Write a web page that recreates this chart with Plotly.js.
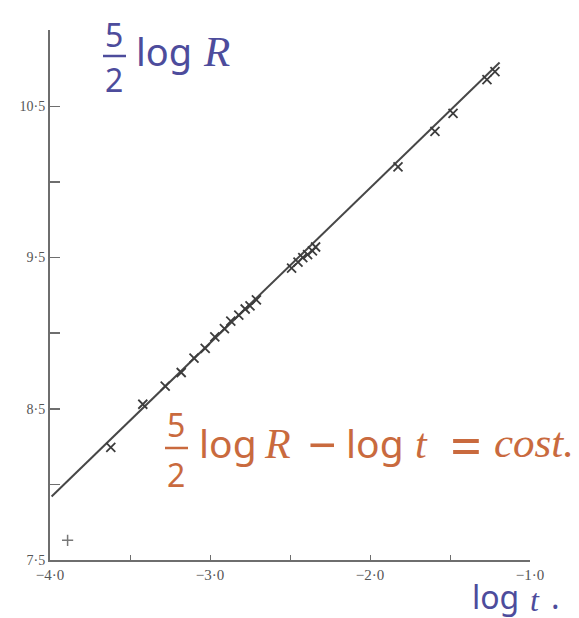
<!DOCTYPE html>
<html>
<head>
<meta charset="utf-8">
<script src="https://cdn.plot.ly/plotly-3.0.1.min.js"></script>
<style>html,body{margin:0;padding:0;background:#fff;}#chart{width:579px;height:618px;}</style>
</head>
<body>
<div id="chart"></div>
<script>
// log t (t in seconds) of the crosses
const logT = [-3.62, -3.42, -3.28, -3.18, -3.10, -3.03, -2.97, -2.91, -2.87, -2.82, -2.78, -2.75, -2.71,
              -2.49, -2.45, -2.42, -2.39, -2.36, -2.34, -1.825, -1.594, -1.481, -1.269, -1.219];
// (5/2) log R of the crosses
const logR52 = [8.245, 8.53, 8.65, 8.74, 8.835, 8.90, 8.975, 9.03, 9.08, 9.12, 9.16, 9.18, 9.22,
                9.43, 9.47, 9.50, 9.52, 9.545, 9.57, 10.10, 10.335, 10.453, 10.677, 10.73];
// separate '+' point near the origin
const plusT = [-3.89];
const plusR = [7.63];
// fitted line  (5/2) log R - log t = cost.
const fitT = [-3.99, -1.19];
const fitR = [7.92, 10.79];
// tick labels
const xTickVals = [-4, -3, -2, -1];
const xTickText = ['\u22124\u00b70', '\u22123\u00b70', '\u22122\u00b70', '\u22121\u00b70'];
const yTickVals = [7.5, 8.5, 9.5, 10.5];
const yTickText = ['7\u00b75', '8\u00b75', '9\u00b75', '10\u00b75'];

const W = 579, H = 618, L = 50, R = 49, T = 30, B = 58;
const pw = W - L - R, ph = H - T - B;
const px = x => (x - L) / pw;
const py = y => (H - B - y) / ph;

const BLUE = '#4d4c9c', ORANGE = '#c96a3e', INK = '#3c3c3c', AX = '#6e6e6e';
const SANS = 'Noto Sans, DejaVu Sans, sans-serif';
const SERIF = 'Liberation Serif, DejaVu Serif, serif';

const traces = [
  {x: fitT, y: fitR, mode: 'lines', line: {color: '#474747', width: 2}, hoverinfo: 'skip', showlegend: false},
  {x: logT, y: logR52, mode: 'markers', marker: {symbol: 'x-thin', size: 9, line: {color: INK, width: 1.8}}, showlegend: false},
  {x: plusT, y: plusR, mode: 'markers', marker: {symbol: 'cross-thin', size: 8, line: {color: '#777', width: 1.5}}, showlegend: false}
];

// text piece helper (pixel positions converted to paper coords)
const ann = (x, y, text, size, color, xanchor, family, italic) => ({
  xref: 'paper', yref: 'paper', x: px(x), y: py(y),
  text: italic ? '<i>' + text + '</i>' : text, showarrow: false,
  xanchor: xanchor || 'center', yanchor: 'middle',
  font: {family: family || SANS, size: size, color: color}
});

const layout = {
  width: W, height: H,
  margin: {l: L, r: R, t: T, b: B, pad: 0},
  paper_bgcolor: '#ffffff', plot_bgcolor: '#ffffff',
  xaxis: {
    range: [-4, -1], showgrid: false, zeroline: false,
    showline: true, linecolor: AX, linewidth: 2,
    tickmode: 'array', tickvals: xTickVals, ticktext: xTickText,
    ticks: 'inside', ticklen: 5, tickwidth: 1, tickcolor: AX,
    minor: {tick0: -4, dtick: 0.5, ticks: 'inside', ticklen: 5, tickwidth: 1, tickcolor: AX},
    tickfont: {family: SERIF, size: 15, color: '#555'}
  },
  yaxis: {
    range: [7.5, 11.005], showgrid: false, zeroline: false,
    showline: true, linecolor: AX, linewidth: 2,
    tickmode: 'array', tickvals: yTickVals, ticktext: yTickText,
    ticks: 'inside', ticklen: 10, tickwidth: 1.5, tickcolor: AX,
    minor: {tick0: 7.5, dtick: 0.5, ticks: 'inside', ticklen: 10, tickwidth: 1.5, tickcolor: AX},
    tickfont: {family: SERIF, size: 14, color: '#555'}
  },
  shapes: [
    {type: 'line', xref: 'paper', yref: 'paper', x0: px(103), x1: px(126), y0: py(56), y1: py(56), line: {color: BLUE, width: 2.5}},
    {type: 'line', xref: 'paper', yref: 'paper', x0: px(165), x1: px(188), y0: py(448), y1: py(448), line: {color: ORANGE, width: 2.5}}
  ],
  annotations: [
    // blue  5/2 log R
    ann(114, 34, '5', 32, BLUE),
    ann(114, 80, '2', 32, BLUE),
    ann(134, 51, 'log', 38, BLUE, 'left'),
    ann(201, 51, 'R', 43, BLUE, 'left', SERIF, true),
    // orange  5/2 log R - log t = cost.
    ann(176, 424, '5', 32, ORANGE),
    ann(176, 474, '2', 32, ORANGE),
    ann(197, 443, 'log', 39, ORANGE, 'left'),
    ann(262, 444, 'R', 42, ORANGE, 'left', SERIF, true),
    ann(322, 444, '\u2212', 50, ORANGE),
    ann(344, 443, 'log', 39, ORANGE, 'left'),
    ann(413, 444, 't', 42, ORANGE, 'left', SERIF, true),
    ann(466, 444, '=', 56, ORANGE),
    ann(492, 443, 'cost.', 43, ORANGE, 'left', SERIF, true),
    // blue  log t .
    ann(470, 596, 'log', 32, BLUE, 'left'),
    ann(528, 600, 't', 32, BLUE, 'left', SERIF, true),
    ann(549, 596, '.', 32, BLUE, 'left')
  ]
};

Plotly.newPlot('chart', traces, layout, {displayModeBar: false, staticPlot: true});
</script>
</body>
</html>
